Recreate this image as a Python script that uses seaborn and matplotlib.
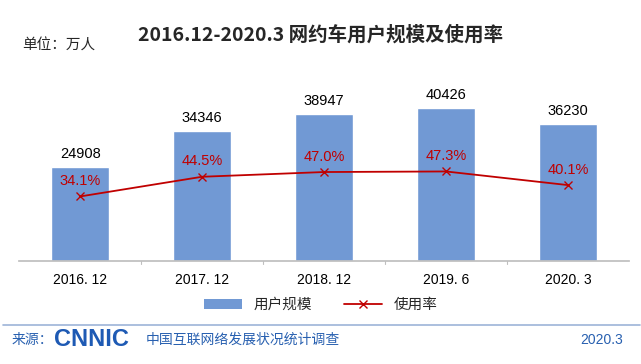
import matplotlib
matplotlib.use("Agg")
import matplotlib.pyplot as plt
import seaborn as sns
from matplotlib.patches import Patch
from matplotlib.lines import Line2D

# data
periods = ["2016. 12", "2017. 12", "2018. 12", "2019. 6", "2020. 3"]
users = [24908, 34346, 38947, 40426, 36230]   # 万人
rates = [34.1, 44.5, 47.0, 47.3, 40.1]        # 使用率 %

bar_color = "#7199D4"
line_color = "#C00000"
blue_text = "#2860B0"

sns.set_theme(style="white")
plt.rcParams["font.family"] = ["Liberation Sans", "Noto Sans CJK SC", "DejaVu Sans"]

fig = plt.figure(figsize=(6.41, 3.64), dpi=100)

ax = fig.add_axes([0.03, 0.283, 0.951, 0.52])
sns.barplot(x=periods, y=users, color=bar_color, width=0.48, saturation=1, ax=ax)
ax.set_ylim(0, 50000)
ax.set_xlim(-0.5, len(periods) - 0.5)
ax.set_yticks([])
ax.set_xlabel("")
ax.set_ylabel("")
for s in ["top", "right", "left"]:
    ax.spines[s].set_visible(False)
ax.spines["bottom"].set_color("#BFBFBF")
ax.tick_params(axis="x", length=0, labelsize=10, pad=9, colors="black")
ax.set_xticks(range(len(periods)), periods)
for b in [i + 0.5 for i in range(len(periods) - 1)]:
    ax.plot([b, b], [0, -900], color="#BFBFBF", lw=0.8, clip_on=False)

for i, v in enumerate(users):
    ax.text(i, v + 1500, str(v), ha="center", va="bottom", fontsize=10.5, color="black")

ax2 = ax.twinx()
sns.pointplot(x=periods, y=rates, color=line_color, markers="x", linewidth=1.3,
              markersize=6, ax=ax2)
ax2.set_ylim(0, 100)
ax2.set_xlim(-0.5, len(periods) - 0.5)
ax2.set_yticks([])
ax2.set_ylabel("")
for s in ax2.spines.values():
    s.set_visible(False)
for i, r in enumerate(rates):
    ax2.text(i, r + 4.5, f"{r:.1f}%", ha="center", va="bottom", fontsize=10.5, color=line_color)

fig.text(0.5, 0.905, "2016.12-2020.3 网约车用户规模及使用率", ha="center", va="center",
         fontsize=14, fontweight="bold", family=["Noto Sans CJK SC"])
fig.text(0.034, 0.874, "单位：万人", ha="left", va="center", fontsize=10.5,
         family=["Noto Sans CJK SC"])

handles = [Patch(facecolor=bar_color, edgecolor="none"),
           Line2D([], [], color=line_color, marker="x", lw=1.3, markersize=6)]
fig.legend(handles, ["用户规模", "使用率"], loc="center", bbox_to_anchor=(0.5, 0.162),
           ncol=2, frameon=False, handlelength=2.6, columnspacing=2.2,
           prop={"family": ["Noto Sans CJK SC"], "size": 10.5})

fig.add_artist(Line2D([0.005, 0.998], [0.107, 0.107], color="#9DB4D8", lw=1.2))
fig.text(0.018, 0.066, "来源：", fontsize=10, color=blue_text, va="center",
         family=["Noto Sans CJK SC"])
fig.text(0.084, 0.066, "CNNIC", fontsize=17, color="#1E5AB4", va="center",
         fontweight="heavy", family=["Liberation Sans"])
fig.text(0.227, 0.066, "中国互联网络发展状况统计调查", fontsize=10, color=blue_text,
         va="center", family=["Noto Sans CJK SC"])
fig.text(0.905, 0.066, "2020.3", fontsize=10, color=blue_text, va="center",
         family=["Liberation Sans"])

fig.savefig("out.png", dpi=100)
